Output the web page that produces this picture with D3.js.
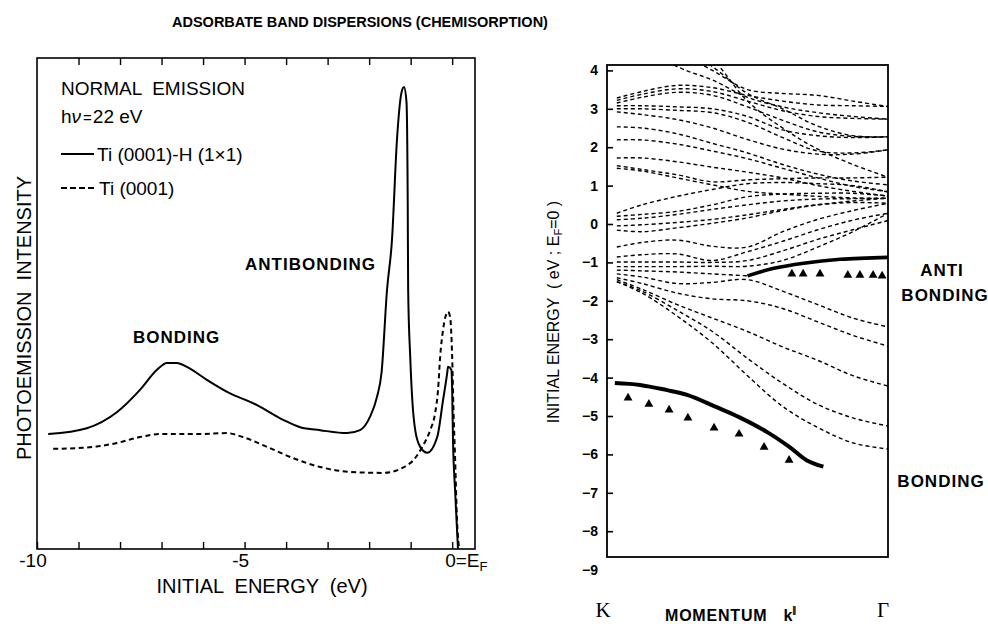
<!DOCTYPE html>
<html><head><meta charset="utf-8">
<script src="https://cdn.jsdelivr.net/npm/d3@7"></script>
<style>body{margin:0;background:#fff} svg{display:block}</style>
</head><body>
<svg id="c" width="988" height="624"></svg>
<script>
// ---------- Left panel data (photoemission spectra) ----------
const hydrideEnergy = [-9.73,-8.80,-8.07,-7.52,-7.11,-6.87,-6.63,-6.39,-5.90,-5.42,-4.70,-4.07,-3.66,-3.18,-2.53,-2.22,-1.98,-1.81,-1.70,-1.57,-1.45,-1.33,-1.22,-1.16,-1.10,-1.07,-1.06,-1.01,-0.96,-0.89,-0.77,-0.60,-0.36,-0.22,-0.12,-0.10,-0.02,0.00,0.02,0.07,0.14];
const hydrideIntensity = [2.34,2.46,2.79,3.24,3.65,3.79,3.79,3.71,3.44,3.20,2.93,2.63,2.48,2.42,2.36,2.42,2.69,3.10,3.60,5.27,6.29,8.33,9.30,9.41,9.10,7.00,5.27,3.91,3.03,2.42,2.08,1.96,2.28,3.03,3.58,3.71,3.65,3.24,2.22,1.20,0];
const cleanEnergy = [-9.61,-8.89,-8.07,-7.52,-7.04,-6.07,-5.42,-5.04,-4.46,-3.83,-3.18,-2.46,-1.66,-1.01,-0.72,-0.53,-0.41,-0.34,-0.29,-0.22,-0.10,-0.05,0.00,0.03,0.07,0.12,0.17];
const cleanIntensity = [2.04,2.06,2.16,2.28,2.34,2.34,2.36,2.28,2.08,1.85,1.67,1.57,1.55,1.75,2.08,2.42,2.77,3.24,3.91,4.46,4.83,4.73,3.91,2.89,1.87,0.53,0];
const energyTicks = [-10,-9,-8,-7,-6,-5,-4,-3,-2,-1,0];
const energyLabelValues = [-10,-5];
const energyLabels = ["-10","-5"];

// ---------- Right panel data (band dispersions) ----------
const kGrid = [0.035,0.125,0.25,0.375,0.5,0.625,0.75,0.875,1.0];
const calcBands = [
  [3.28,3.45,3.61,3.55,3.35,3.20,3.10,3.08,3.06],
  [3.22,3.38,3.52,3.45,3.20,2.95,2.80,2.75,2.73],
  [3.15,3.30,3.43,3.35,3.05,2.70,2.40,2.28,2.27],
  [3.08,3.08,3.05,3.00,2.80,2.45,2.30,2.25,2.27],
  [3.00,3.00,2.96,2.90,2.65,2.25,1.90,1.85,1.93],
  [2.92,2.85,2.72,2.50,2.20,1.95,1.82,1.82,1.93],
  [5.20,4.70,4.10,3.75,3.30,3.05,2.90,2.80,2.73],
  [5.60,5.00,4.50,4.00,3.50,3.40,3.35,3.20,3.06],
  [5.80,5.20,4.70,4.10,3.40,3.00,2.55,2.30,2.27],
  [6.20,5.60,5.00,4.30,3.20,2.50,1.95,1.55,1.22],
  [2.53,2.50,2.35,2.10,1.85,1.55,1.30,1.12,1.02],
  [2.19,2.19,2.08,1.90,1.70,1.45,1.20,0.98,0.84],
  [1.72,1.72,1.62,1.48,1.35,1.20,1.00,0.85,0.73],
  [1.52,1.42,1.28,1.10,1.15,1.18,1.20,1.20,1.22],
  [1.45,1.38,1.20,1.02,0.85,0.78,0.72,0.68,0.67],
  [0.28,0.50,0.72,0.90,1.05,1.08,1.05,1.00,0.84],
  [0.20,0.25,0.33,0.50,0.71,0.78,0.80,0.80,0.73],
  [0.11,0.15,0.25,0.38,0.50,0.60,0.65,0.66,0.67],
  [-0.05,-0.02,0.04,0.12,0.24,0.38,0.50,0.56,0.54],
  [-0.16,-0.20,-0.10,0.02,0.16,0.35,0.50,0.60,0.67],
  [-0.60,-0.48,-0.42,-0.58,-0.60,-0.20,0.12,0.35,0.54],
  [-0.86,-0.80,-0.78,-0.95,-0.72,-0.45,-0.15,0.10,0.28],
  [-0.99,-0.99,-0.99,-1.00,-0.95,-0.70,-0.40,-0.15,0.09],
  [-1.11,-1.11,-1.11,-1.10,-1.10,-0.95,-0.60,-0.20,0.28],
  [-1.20,-1.22,-1.25,-1.30,-1.35,null,null,null,null],
  [-1.30,-1.38,-1.55,-1.52,-1.45,-1.75,-2.10,-2.45,-2.68],
  [-1.40,-1.55,-1.80,-1.95,-2.00,-2.20,-2.55,-2.90,-3.18],
  [-1.45,-1.70,-2.10,-2.45,-2.80,-3.20,-3.55,-3.95,-4.22],
  [-1.50,-1.75,-2.25,-2.80,-3.50,-4.15,-4.70,-5.05,-5.26],
  [-1.50,-1.80,-2.40,-3.10,-3.95,-4.75,-5.30,-5.70,-5.86]
];
const antiK = [0.50,0.59,0.70,0.83,1.00];
const antiE = [-1.35,-1.16,-1.02,-0.92,-0.87];
const bondK = [0.028,0.117,0.21,0.285,0.39,0.47,0.57,0.65,0.71,0.77];
const bondE = [-4.14,-4.19,-4.32,-4.45,-4.77,-5.03,-5.42,-5.81,-6.15,-6.32];
const triAntiK = [0.658,0.698,0.758,0.857,0.900,0.947,0.979];
const triAntiE = [-1.30,-1.30,-1.30,-1.33,-1.33,-1.33,-1.35];
const triBondK = [0.075,0.149,0.221,0.288,0.381,0.470,0.559,0.648];
const triBondE = [-4.53,-4.69,-4.84,-5.05,-5.31,-5.47,-5.81,-6.15];
const energyAxisTicks = [4,3,2,1,0,-1,-2,-3,-4,-5,-6,-7,-8,-9];

// ---------- Drawing ----------
const svg = d3.select("#c");
const sans = "'Liberation Sans', Arial, Helvetica, sans-serif";

svg.append("text").attr("x",172).attr("y",27)
  .attr("font-family",sans).attr("font-weight","bold").attr("font-size",14.5)
  .text("ADSORBATE BAND DISPERSIONS (CHEMISORPTION)");

// ===== Left panel =====
const L = {left:37, right:475, top:58, bottom:549};
const xL = d3.scaleLinear().domain([-10,0.55]).range([L.left, L.right]);
const yL = d3.scaleLinear().domain([0,10]).range([L.bottom, L.top]);
const gL = svg.append("g");

gL.append("rect").attr("x",L.left).attr("y",L.top)
  .attr("width",L.right-L.left).attr("height",L.bottom-L.top)
  .attr("fill","none").attr("stroke","#000").attr("stroke-width",1.6);

gL.append("g").attr("transform",`translate(0,${L.bottom})`)
  .call(d3.axisTop(xL).tickValues(energyTicks).tickSize(7).tickFormat(""))
  .call(g=>g.select(".domain").remove())
  .selectAll("line").attr("stroke-width",1.4);
gL.append("g").attr("transform",`translate(0,${L.top})`)
  .call(d3.axisBottom(xL).tickValues(energyTicks.slice(1)).tickSize(7).tickFormat(""))
  .call(g=>g.select(".domain").remove())
  .selectAll("line").attr("stroke-width",1.4);

energyLabelValues.forEach((v,i)=>{
  gL.append("text").attr("x",xL(v)-4).attr("y",567)
    .attr("text-anchor","middle").attr("font-family",sans).attr("font-size",19)
    .text(energyLabels[i]);
});
const ef = gL.append("text").attr("x",xL(0)-7).attr("y",567)
  .attr("font-family",sans).attr("font-size",19);
ef.append("tspan").text("0=E");
ef.append("tspan").attr("font-size",13).attr("dy",4).text("F");

gL.append("text").attr("x",262).attr("y",593).attr("text-anchor","middle")
  .attr("font-family",sans).attr("font-size",20).attr("xml:space","preserve")
  .text("INITIAL  ENERGY  (eV)");
gL.append("text").attr("transform","translate(31,318) rotate(-90)")
  .attr("text-anchor","middle").attr("font-family",sans).attr("font-size",20)
  .attr("xml:space","preserve").text("PHOTOEMISSION  INTENSITY");

const lineL = d3.line().x(d=>xL(d[0])).y(d=>yL(d[1])).curve(d3.curveMonotoneX);
gL.append("path").datum(d3.zip(hydrideEnergy,hydrideIntensity))
  .attr("d",lineL).attr("fill","none").attr("stroke","#000").attr("stroke-width",2);
gL.append("path").datum(d3.zip(cleanEnergy,cleanIntensity))
  .attr("d",lineL).attr("fill","none").attr("stroke","#000").attr("stroke-width",2)
  .attr("stroke-dasharray","5,3.5");

const leg = gL.append("g").attr("font-family",sans).attr("font-size",19);
leg.append("text").attr("x",61).attr("y",95).attr("xml:space","preserve").text("NORMAL  EMISSION");
const hv = leg.append("text").attr("x",61).attr("y",123);
hv.append("tspan").text("h");
hv.append("tspan").attr("font-style","italic").text("ν");
hv.append("tspan").attr("font-size",15).attr("dx",2).text("=");
hv.append("tspan").attr("dx",1).text("22 eV");
leg.append("line").attr("x1",61).attr("x2",94).attr("y1",154).attr("y2",154)
  .attr("stroke","#000").attr("stroke-width",1.8);
leg.append("text").attr("x",97).attr("y",161).text("Ti (0001)-H (1×1)");
leg.append("line").attr("x1",61).attr("x2",97).attr("y1",188).attr("y2",188)
  .attr("stroke","#000").attr("stroke-width",1.8).attr("stroke-dasharray","6,3");
leg.append("text").attr("x",99).attr("y",195).text("Ti (0001)");

const boldLbl = (g,x,y,t,anchor)=>g.append("text").attr("x",x).attr("y",y)
  .attr("text-anchor",anchor||"start").attr("font-family",sans).attr("font-weight","bold")
  .attr("font-size",17).attr("letter-spacing",1).text(t);
boldLbl(gL,245,270,"ANTIBONDING");
boldLbl(gL,133,343,"BONDING");

// ===== Right panel =====
const R = {left:607, right:888, top:65, bottom:557};
const xR = d3.scaleLinear().domain([0,1]).range([R.left, R.right]);
const yR = d3.scaleLinear().domain([0,4]).range([224, 70.4]);
const gR = svg.append("g");

svg.append("defs").append("clipPath").attr("id","clipR").append("rect")
  .attr("x",R.left).attr("y",R.top).attr("width",R.right-R.left).attr("height",R.bottom-R.top);

gR.append("rect").attr("x",R.left).attr("y",R.top)
  .attr("width",R.right-R.left).attr("height",R.bottom-R.top)
  .attr("fill","none").attr("stroke","#000").attr("stroke-width",1.8);

gR.append("g").attr("transform",`translate(${R.left},0)`)
  .call(d3.axisRight(yR).tickValues(energyAxisTicks.filter(v=>v>-9)).tickSize(6).tickFormat(""))
  .call(g=>g.select(".domain").remove())
  .selectAll("line").attr("stroke-width",1.6);
const fmtE = d => d < 0 ? "\u2212" + (-d) : String(d);
gR.append("g").attr("transform",`translate(${R.left},0)`)
  .call(d3.axisLeft(yR).tickValues(energyAxisTicks).tickSize(0).tickPadding(9).tickFormat(fmtE))
  .call(g=>g.select(".domain").remove())
  .selectAll("text").attr("font-family",sans).attr("font-weight","bold").attr("font-size",14)
  .attr("fill","#000");

const ylab = gR.append("text").attr("transform","translate(559,312) rotate(-90)")
  .attr("text-anchor","middle").attr("font-family",sans).attr("font-size",16)
  .attr("xml:space","preserve");
ylab.append("tspan").text("INITIAL ENERGY  ( eV ; E");
ylab.append("tspan").attr("font-size",11).attr("dy",3).text("F");
ylab.append("tspan").attr("dy",-3).text("=0 )");

const bandLine = d3.line().defined(d=>d[1]!=null)
  .x(d=>xR(d[0])).y(d=>yR(d[1])).curve(d3.curveCatmullRom.alpha(0.5));
const gB = gR.append("g").attr("clip-path","url(#clipR)");
gB.selectAll("path.band").data(calcBands).join("path").attr("class","band")
  .attr("d",b=>bandLine(d3.zip(kGrid,b))).attr("fill","none")
  .attr("stroke","#000").attr("stroke-width",1.4).attr("stroke-dasharray","4,3");

const thick = d3.line().x(d=>xR(d[0])).y(d=>yR(d[1])).curve(d3.curveCatmullRom.alpha(0.5));
gB.append("path").datum(d3.zip(antiK,antiE)).attr("d",thick)
  .attr("fill","none").attr("stroke","#000").attr("stroke-width",3.6);
gB.append("path").datum(d3.zip(bondK,bondE)).attr("d",thick)
  .attr("fill","none").attr("stroke","#000").attr("stroke-width",4);

const tri = d3.symbol().type(d3.symbolTriangle).size(34);
gR.selectAll("path.ta").data(d3.zip(triAntiK,triAntiE)).join("path").attr("class","ta")
  .attr("transform",d=>`translate(${xR(d[0])},${yR(d[1])})`).attr("d",tri).attr("fill","#000");
gR.selectAll("path.tb").data(d3.zip(triBondK,triBondE)).join("path").attr("class","tb")
  .attr("transform",d=>`translate(${xR(d[0])},${yR(d[1])})`).attr("d",tri).attr("fill","#000");

boldLbl(gR,942,276,"ANTI","middle");
boldLbl(gR,945,301,"BONDING","middle");
boldLbl(gR,941,487,"BONDING","middle");

const serif = "'Liberation Serif', 'Times New Roman', serif";
gR.append("text").attr("x",603).attr("y",617).attr("text-anchor","middle")
  .attr("font-family",serif).attr("font-size",21).text("K");
gR.append("text").attr("x",883).attr("y",617).attr("text-anchor","middle")
  .attr("font-family",serif).attr("font-size",21).text("Γ");
const mom = gR.append("text").attr("x",665).attr("y",621)
  .attr("font-family",sans).attr("font-weight","bold").attr("font-size",16);
mom.append("tspan").attr("letter-spacing",0.8).text("MOMENTUM");
mom.append("tspan").attr("dx",16).text("k");
mom.append("tspan").attr("font-size",9).attr("dy",-8).text("∥");
</script></body></html>
